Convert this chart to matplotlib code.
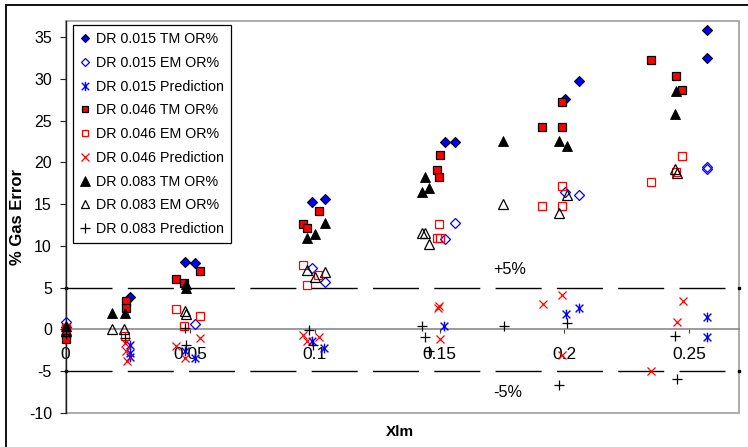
import matplotlib
matplotlib.use("Agg")
import matplotlib.pyplot as plt
from matplotlib.path import Path
from matplotlib.lines import Line2D
from matplotlib.patches import Rectangle

plt.rcParams['font.family'] = ['Liberation Sans', 'DejaVu Sans']

# ---- DR 0.015 ----
dr015_tm_x = [0.0, 0.0257, 0.0478, 0.0518, 0.0989, 0.1040, 0.1522, 0.1562, 0.2004, 0.2059, 0.2570, 0.2570]
dr015_tm_y = [0.3, 3.9, 8.1, 7.95, 15.3, 15.6, 22.5, 22.5, 27.6, 29.8, 32.5, 35.8]
dr015_em_x = [0.0, 0.0519, 0.0989, 0.1039, 0.1523, 0.1562, 0.2001, 0.2059, 0.2570, 0.2570]
dr015_em_y = [0.9, 0.7, 7.4, 5.7, 10.8, 12.8, 16.4, 16.1, 19.4, 19.2]
dr015_pred_x = [0.0, 0.0257, 0.0257, 0.0257, 0.0480, 0.0520, 0.0989, 0.1037, 0.1519, 0.2005, 0.2060, 0.2571, 0.2571]
dr015_pred_y = [-0.5, -1.8, -2.8, -3.3, -2.6, -3.4, -1.4, -2.2, 0.47, 1.9, 2.56, 1.5, -0.9]

# ---- DR 0.046 ----
dr046_tm_x = [0.0, 0.0, 0.0244, 0.0244, 0.0442, 0.0477, 0.0538, 0.0952, 0.0969, 0.1015, 0.1490, 0.1498,
              0.1502, 0.1910, 0.1989, 0.1989, 0.2347, 0.2449, 0.2471]
dr046_tm_y = [-0.5, -1.1, 3.4, 2.6, 6.0, 5.6, 7.0, 12.6, 12.1, 14.2, 19.1, 18.2,
              20.9, 24.2, 24.2, 27.2, 32.3, 30.4, 28.7]
dr046_em_x = [0.0, 0.0237, 0.0442, 0.0477, 0.0538, 0.0952, 0.0969, 0.1013, 0.1489, 0.1498, 0.1502,
              0.1910, 0.1989, 0.1989, 0.2347, 0.2446, 0.2471]
dr046_em_y = [0.2, -0.8, 2.4, 0.47, 1.6, 7.7, 5.3, 6.5, 11.0, 12.6, 11.0,
              14.8, 14.8, 17.2, 17.7, 18.9, 20.75]
dr046_pred_x = [0.0, 0.0237, 0.0244, 0.0248, 0.0442, 0.0478, 0.0541, 0.0953, 0.0969, 0.1016, 0.1495,
                0.1498, 0.1503, 0.1913, 0.1992, 0.1992, 0.2349, 0.2453, 0.2474]
dr046_pred_y = [-0.8, -1.6, -2.6, -3.8, -2.0, -3.4, -1.05, -0.7, -1.4, -0.9, 2.55,
                2.8, -1.1, 3.0, 4.1, -3.0, -5.0, 0.9, 3.35]

# ---- DR 0.083 ----
dr083_tm_x = [0.0, 0.0188, 0.0237, 0.0482, 0.0485, 0.0970, 0.1001, 0.1040, 0.1431, 0.1442, 0.1459,
              0.1755, 0.1980, 0.2011, 0.2445, 0.2449]
dr083_tm_y = [0.4, 1.96, 2.0, 5.4, 5.0, 11.0, 11.4, 12.8, 16.4, 18.2, 16.9,
              22.6, 22.6, 22.0, 25.8, 28.6]
dr083_em_x = [0.0, 0.0188, 0.0234, 0.0479, 0.0485, 0.0970, 0.1000, 0.1041, 0.1431, 0.1442, 0.1459,
              0.1755, 0.1980, 0.2011, 0.2445, 0.2451]
dr083_em_y = [-0.2, 0.04, 0.1, 2.2, 1.8, 7.15, 6.3, 6.9, 11.5, 11.5, 10.2,
              15.0, 14.0, 16.1, 19.2, 18.7]
dr083_pred_x = [0.0, 0.0240, 0.0478, 0.0485, 0.0975, 0.0993, 0.1431, 0.1442, 0.1457, 0.1756,
                0.1980, 0.2011, 0.2445, 0.2453]
dr083_pred_y = [-0.6, -1.0, 0.15, -1.85, -0.1, -1.8, 0.47, -0.9, -2.6, 0.47,
                -6.65, 0.83, -0.77, -5.97]

series_labels = ["DR 0.015 TM OR%", "DR 0.015 EM OR%", "DR 0.015 Prediction",
                 "DR 0.046 TM OR%", "DR 0.046 EM OR%", "DR 0.046 Prediction",
                 "DR 0.083 TM OR%", "DR 0.083 EM OR%", "DR 0.083 Prediction"]

x_ticks = [0, 0.05, 0.1, 0.15, 0.2, 0.25]
x_tick_labels = ["0", "0.05", "0.1", "0.15", "0.2", "0.25"]
y_ticks = [-10, -5, 0, 5, 10, 15, 20, 25, 30, 35]
band_x = [0.0, 0.27]
band_upper = [5, 5]
band_lower = [-5, -5]

# asterisk marker: an X with a vertical stroke
asterisk = Path([(-1, -1), (1, 1), (-1, 1), (1, -1), (0, -1.25), (0, 1.25)],
                [Path.MOVETO, Path.LINETO, Path.MOVETO, Path.LINETO, Path.MOVETO, Path.LINETO])

BLUE = '#0000FF'
RED = '#FF0000'
BLACK = '#000000'

styles = [
    dict(marker='D', ms=4.8, mfc=BLUE, mec=BLACK, mew=0.8),
    dict(marker='D', ms=4.8, mfc='none', mec=BLUE, mew=0.9),
    dict(marker=asterisk, ms=7.0, mfc='none', mec=BLUE, mew=1.0),
    dict(marker='s', ms=5.3, mfc=RED, mec=BLACK, mew=0.9),
    dict(marker='s', ms=5.3, mfc='none', mec=RED, mew=0.9),
    dict(marker='x', ms=6.3, mfc='none', mec=RED, mew=0.9),
    dict(marker='^', ms=7.0, mfc=BLACK, mec=BLACK, mew=0.6),
    dict(marker='^', ms=6.7, mfc='none', mec=BLACK, mew=0.9),
    dict(marker='+', ms=7.0, mfc='none', mec=BLACK, mew=0.9),
]
data = [(dr015_tm_x, dr015_tm_y), (dr015_em_x, dr015_em_y), (dr015_pred_x, dr015_pred_y),
        (dr046_tm_x, dr046_tm_y), (dr046_em_x, dr046_em_y), (dr046_pred_x, dr046_pred_y),
        (dr083_tm_x, dr083_tm_y), (dr083_em_x, dr083_em_y), (dr083_pred_x, dr083_pred_y)]

W, H = 748, 447
fig = plt.figure(figsize=(W / 100, H / 100), dpi=100)
ax = fig.add_axes([65.5 / W, 1 - 413 / H, (739 - 65.5) / W, (413 - 21) / H])
ax.set_xlim(0, 0.27)
ax.set_ylim(-10, 36.93)

# +/-5% bands
dash_on, dash_off = 46 * 0.72, 15.3 * 0.72
for yy in (band_upper, band_lower):
    ax.plot(band_x, yy, color=BLACK, lw=1.0, dashes=(dash_on, dash_off),
            marker='s', ms=1.8, mfc=BLACK, mec=BLACK, clip_on=False, zorder=2)
ax.text(0.1713, 7.15, "+5%", fontsize=11.7, ha='left', va='center')
ax.text(0.1713, -7.6, "-5%", fontsize=11.7, ha='left', va='center')

handles = []
for (xs, ys), st, lab in zip(data, styles, series_labels):
    ln, = ax.plot(xs, ys, linestyle='none', label=lab, clip_on=False, zorder=3, **st)
    handles.append(ln)

# spines / axes
for s in ('top', 'right'):
    ax.spines[s].set_visible(False)
ax.spines['bottom'].set_position(('data', 0))
ax.spines['bottom'].set_color('#808080')
ax.spines['bottom'].set_linewidth(1.1)
ax.spines['left'].set_color('#202020')
ax.spines['left'].set_linewidth(1.0)
ax.add_patch(Rectangle((0, 0), 1, 1, transform=ax.transAxes, fill=False,
                       edgecolor='#A6A6A6', lw=1.3, clip_on=False, zorder=0))

ax.set_xticks(x_ticks)
ax.set_xticklabels(x_tick_labels)
ax.set_yticks(y_ticks)
ax.set_yticklabels([str(v) for v in y_ticks])
ax.tick_params(axis='x', direction='out', length=3, width=0.8, color='#404040',
               pad=9.5, labelsize=12.5)
ax.tick_params(axis='y', direction='out', length=4.3, width=0.8, color='#202020',
               pad=5.5, labelsize=11.5)

leg = ax.legend(handles=handles, loc='upper left', bbox_to_anchor=(7 / 673.5, (413 - 25) / 392),
                borderaxespad=0, frameon=True, fancybox=False, shadow=False,
                fontsize=10.3, handlelength=0.8, handletextpad=0.35, borderpad=0.5,
                labelspacing=0.68, markerscale=0.95, edgecolor=BLACK, framealpha=1)
leg.get_frame().set_linewidth(0.9)
leg.set_zorder(5)

fig.text(18 / W, 1 - 217 / H, "% Gas Error", rotation=90, ha='center', va='center',
         fontsize=12, fontweight='bold')
fig.text(400 / W, 1 - 432 / H, "Xlm", ha='center', va='center', fontsize=11, fontweight='bold')

# outer chart frame (top and left edges)
fig.add_artist(Line2D([6 / W, 6 / W], [0, 1 - 5 / H], transform=fig.transFigure,
                      color='#101010', lw=1.4))
fig.add_artist(Line2D([6 / W, 1], [1 - 5 / H, 1 - 5 / H], transform=fig.transFigure,
                      color='#101010', lw=1.4))

fig.savefig("out.png", dpi=100)
